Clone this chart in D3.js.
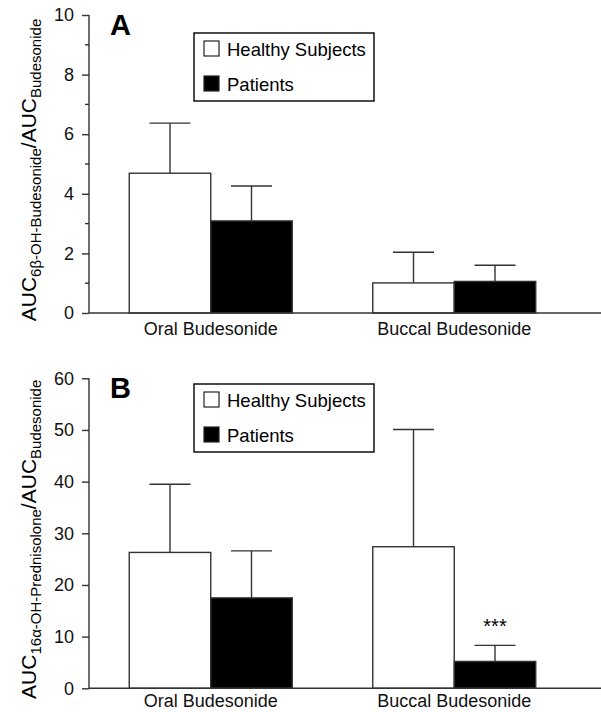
<!DOCTYPE html>
<html>
<head>
<meta charset="utf-8">
<script src="https://cdn.jsdelivr.net/npm/d3@7"></script>
<style>
  body { margin: 0; background: #fff; }
  svg { display: block; font-family: Arial, "Liberation Sans", sans-serif; }
</style>
</head>
<body>
<div id="my_dataviz"></div>
<script>
// data
var groups = ["Oral Budesonide", "Buccal Budesonide"];
var series = ["Healthy Subjects", "Patients"];

// panel A : AUC 6b-OH-budesonide / AUC budesonide
var healthyA = [4.69, 1.01];
var healthyA_sd = [1.68, 1.03];
var patientsA = [3.09, 1.06];
var patientsA_sd = [1.17, 0.54];
var ticksA = [0, 2, 4, 6, 8, 10];
var minorA = [1, 3, 5, 7, 9];

// panel B : AUC 16a-OH-prednisolone / AUC budesonide
var healthyB = [26.3, 27.4];
var healthyB_sd = [13.2, 22.7];
var patientsB = [17.5, 5.2];
var patientsB_sd = [9.1, 3.1];
var ticksB = [0, 10, 20, 30, 40, 50, 60];
var minorB = [];
var signifB = ["", "***"];

var W = 601, H = 712;
var ink = "#333";

var svg = d3.select("#my_dataviz")
  .append("svg")
    .attr("width", W)
    .attr("height", H);

// x scales shared by both panels
var x = d3.scaleBand()
  .domain(groups)
  .range([89, 576]);
var xs = d3.scaleBand()
  .domain(series)
  .range([0, x.bandwidth()])
  .paddingOuter(0.494);

function drawPanel(p) {
  var y = d3.scaleLinear()
    .domain([0, p.max])
    .range([p.bottom, p.top]);

  var g = svg.append("g");

  // bars
  var rows = [];
  groups.forEach(function(grp, i) {
    rows.push({group: grp, s: series[0], v: p.healthy[i], sd: p.healthySd[i], fill: "#fff"});
    rows.push({group: grp, s: series[1], v: p.patients[i], sd: p.patientsSd[i], fill: "#000"});
  });

  // error bars (upper only) drawn first so bar outline sits on top
  var eb = g.selectAll("g.err")
    .data(rows)
    .enter()
    .append("g")
      .attr("class", "err")
      .attr("stroke", ink)
      .attr("stroke-width", 1.4);
  eb.append("line")
    .attr("x1", function(d) { return x(d.group) + xs(d.s) + xs.bandwidth() / 2; })
    .attr("x2", function(d) { return x(d.group) + xs(d.s) + xs.bandwidth() / 2; })
    .attr("y1", function(d) { return y(d.v); })
    .attr("y2", function(d) { return y(d.v + d.sd); });
  eb.append("line")
    .attr("x1", function(d) { return x(d.group) + xs(d.s) + xs.bandwidth() / 2 - 20.5; })
    .attr("x2", function(d) { return x(d.group) + xs(d.s) + xs.bandwidth() / 2 + 20.5; })
    .attr("y1", function(d) { return y(d.v + d.sd); })
    .attr("y2", function(d) { return y(d.v + d.sd); });

  g.selectAll("rect.bar")
    .data(rows)
    .enter()
    .append("rect")
      .attr("class", "bar")
      .attr("x", function(d) { return x(d.group) + xs(d.s); })
      .attr("y", function(d) { return y(d.v); })
      .attr("width", xs.bandwidth())
      .attr("height", function(d) { return y(0) - y(d.v); })
      .attr("fill", function(d) { return d.fill; })
      .attr("stroke", ink)
      .attr("stroke-width", 1.4);

  // significance marks
  if (p.signif) {
    g.selectAll("text.sig")
      .data(rows.filter(function(d, i) { return i % 2 == 1; }))
      .enter()
      .append("text")
        .attr("class", "sig")
        .attr("text-anchor", "middle")
        .attr("x", function(d) { return x(d.group) + xs(d.s) + xs.bandwidth() / 2; })
        .attr("y", function(d) { return y(d.v + d.sd) - 12; })
        .style("font-size", "20px")
        .text(function(d, i) { return p.signif[i]; });
  }

  // y axis
  var yAxis = g.append("g")
    .attr("transform", "translate(89,0)")
    .call(d3.axisLeft(y).tickValues(p.ticks).tickSize(7).tickPadding(8).tickFormat(d3.format("d")));
  yAxis.select(".domain").remove();
  yAxis.selectAll("line").attr("stroke", ink).attr("stroke-width", 1.4);
  yAxis.selectAll("text").style("font-size", "18px").attr("fill", "#111");
  yAxis.append("line")
    .attr("y1", y(p.max))
    .attr("y2", y(0))
    .attr("stroke", ink)
    .attr("stroke-width", 1.4);
  yAxis.selectAll("line.minor")
    .data(p.minor)
    .enter()
    .append("line")
      .attr("class", "minor")
      .attr("x1", -4)
      .attr("y1", function(d) { return y(d); })
      .attr("y2", function(d) { return y(d); })
      .attr("stroke", ink)
      .attr("stroke-width", 1.4);

  // x axis: baseline running to the edge
  var xAxis = g.append("g")
    .attr("transform", "translate(0," + y(0) + ")")
    .call(d3.axisBottom(x).tickSize(0).tickPadding(p.labelPad));
  xAxis.select(".domain").remove();
  xAxis.selectAll("text").style("font-size", "18px").attr("fill", "#111");
  xAxis.append("line")
    .attr("x1", 89)
    .attr("x2", W)
    .attr("stroke", ink)
    .attr("stroke-width", 1.4);

  // panel letter
  g.append("text")
    .attr("x", 110)
    .attr("y", y(p.max) + 20)
    .style("font-size", "29px")
    .style("font-weight", "bold")
    .text(p.letter);

  // legend
  var lg = g.append("g")
    .attr("transform", "translate(194," + p.legendTop + ")");
  lg.append("rect")
    .attr("width", 180)
    .attr("height", 68)
    .attr("fill", "#fff")
    .attr("stroke", "#111")
    .attr("stroke-width", 1.5);
  var items = lg.selectAll("g.item")
    .data(series)
    .enter()
    .append("g")
      .attr("class", "item")
      .attr("transform", function(d, i) { return "translate(10," + (8 + i * 35) + ")"; });
  items.append("rect")
    .attr("width", 15)
    .attr("height", 15)
    .attr("fill", function(d, i) { return i == 0 ? "#fff" : "#000"; })
    .attr("stroke", "#222")
    .attr("stroke-width", 1.2);
  items.append("text")
    .attr("x", 23)
    .attr("y", 15)
    .style("font-size", "18.5px")
    .text(function(d) { return d; });

  // y label with subscripts
  var lab = g.append("text")
    .attr("transform", "translate(" + 36 + "," + ((y(0) + y(p.max)) / 2 + 6) + ") rotate(-90)")
    .attr("text-anchor", "middle")
    .style("font-size", "21px");
  lab.append("tspan").text("AUC");
  lab.append("tspan").attr("baseline-shift", "-5").style("font-size", "15px").text(p.sub);
  lab.append("tspan").text("/AUC");
  lab.append("tspan").attr("baseline-shift", "-5").style("font-size", "15px").text("Budesonide");
}

drawPanel({
  letter: "A", max: 10, top: 15, bottom: 313, legendTop: 33, labelPad: 9,
  healthy: healthyA, healthySd: healthyA_sd,
  patients: patientsA, patientsSd: patientsA_sd,
  ticks: ticksA, minor: minorA,
  sub: "6\u03B2-OH-Budesonide"
});
drawPanel({
  letter: "B", max: 60, top: 378.3, bottom: 688.3, legendTop: 384, labelPad: 6,
  healthy: healthyB, healthySd: healthyB_sd,
  patients: patientsB, patientsSd: patientsB_sd,
  ticks: ticksB, minor: minorB,
  signif: signifB,
  sub: "16\u03B1-OH-Prednisolone"
});
</script>
</body>
</html>
